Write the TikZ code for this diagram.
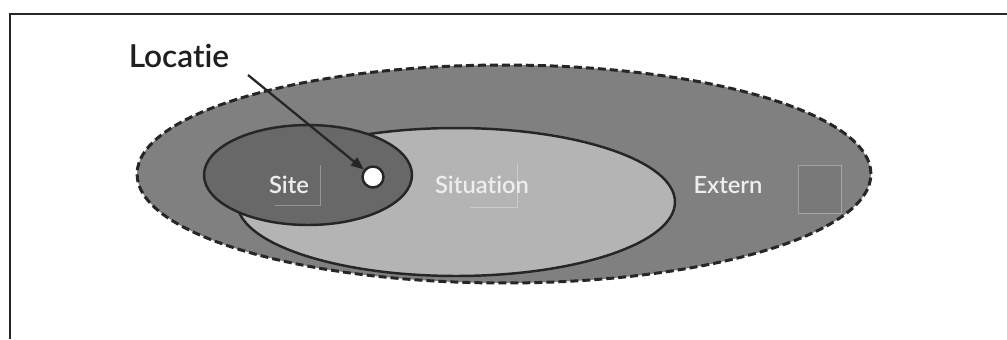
\documentclass[tikz,border=0pt]{standalone}
\usepackage{fontspec}
\setmainfont{Lato}[Ligatures=NoCommon, BoldFont={Lato Semibold}]
\usetikzlibrary{shapes.geometric,arrows.meta}
\definecolor{externgray}{RGB}{128,128,128}
\definecolor{sitegray}{RGB}{104,104,104}
\definecolor{situgray}{RGB}{180,180,180}
\definecolor{lbltext}{RGB}{238,238,238}
\begin{document}
\begin{tikzpicture}[x=0.02cm,y=-0.02cm,
  zone/.style={ellipse, draw=black!85, line width=1.4pt, inner sep=0pt},
  lbl/.style={anchor=base, text=lbltext, font=\bfseries\fontsize{13.5}{16}\selectfont},
  ghost/.style={draw=white, draw opacity=0.3, line width=0.4pt}]
\useasboundingbox (0,0) rectangle (1007,339);
\fill[white] (0,0) rectangle (1007,339);
\draw[line width=1.2pt, black!85] (1007,14) -- (10,14) -- (10,339);
\node[zone, fill=externgray, line width=1.7pt, dash pattern=on 0.16cm off 0.08cm, minimum width=14.68cm, minimum height=4.36cm] (extern) at (504,174) {};
\node[zone, fill=situgray, minimum width=8.76cm, minimum height=2.96cm] (situation) at (456,202) {};
\node[zone, fill=sitegray, minimum width=4.16cm, minimum height=2.0cm] (site) at (308,175) {};
\draw[ghost] (275,205) -- (320,205) -- (320,165);
\draw[ghost] (470,207) -- (517,207) -- (517,163);
\draw[ghost, fill=black, fill opacity=0.05] (798,165) rectangle (841,213);
\node[lbl] (sitelbl) at (289,193) {Site};
\node[lbl] (situlbl) at (482,193) {Situation};
\node[lbl] (externlbl) at (728,193) {Extern};
\node[circle, draw=black!85, fill=white, line width=1.4pt, minimum size=0.42cm, inner sep=0pt] (loc) at (373,177) {};
\node[anchor=base, text=black!88, font=\bfseries\fontsize{18}{20}\selectfont] (locatie) at (179,67) {Locatie};
\coordinate (locstart) at (248,75);
\draw[-{Triangle[length=0.26cm,width=0.2cm]}, line width=1.3pt, black!85] (locstart) -- (loc);
\end{tikzpicture}
\end{document}
